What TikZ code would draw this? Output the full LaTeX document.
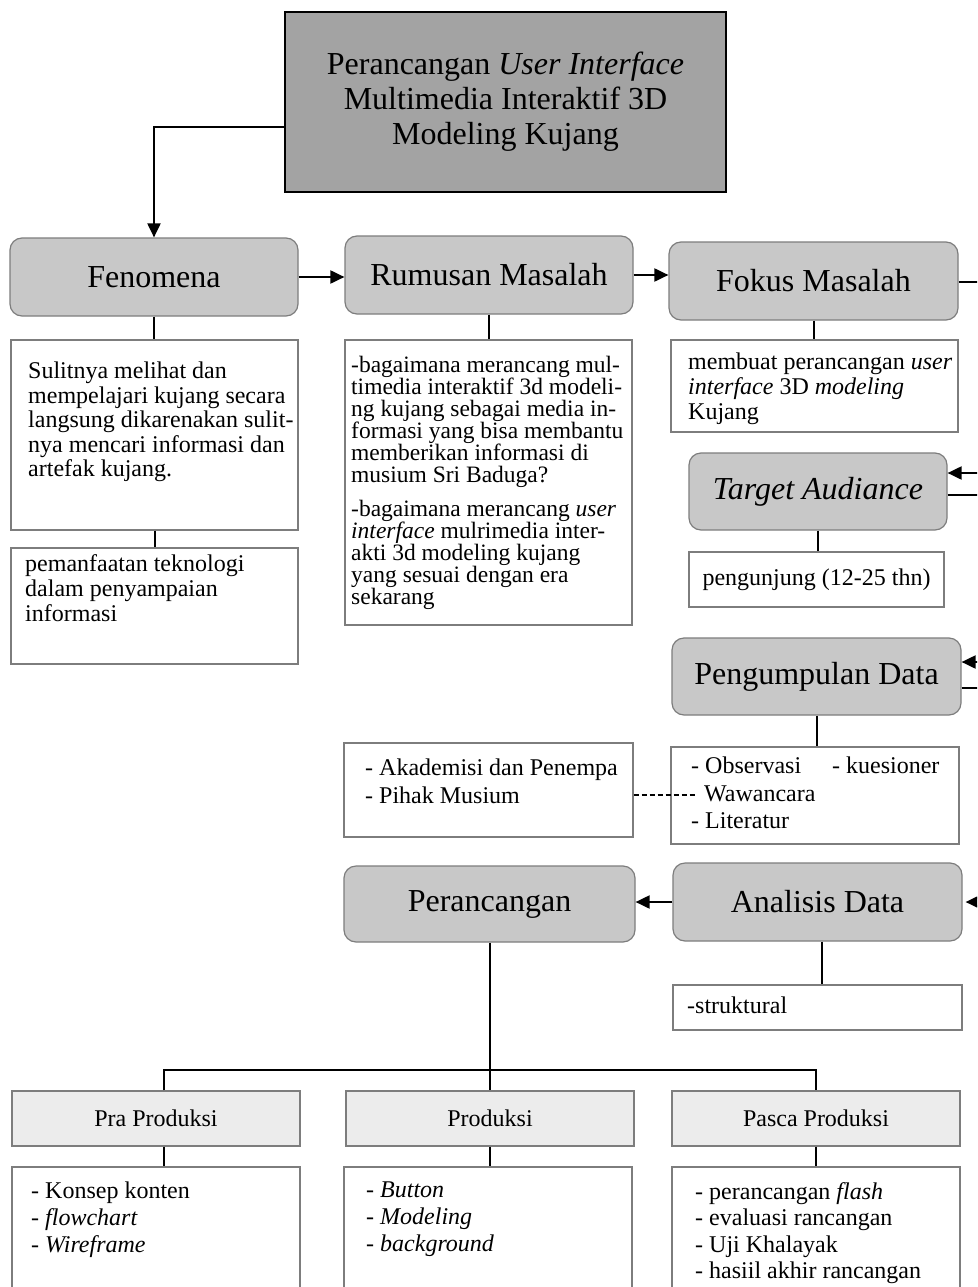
\documentclass[tikz,border=0pt]{standalone}
\usepackage{fontspec}
\setmainfont{Liberation Serif}
\usetikzlibrary{arrows.meta, positioning}

\definecolor{titlegray}{RGB}{163,163,163}
\definecolor{boxgray}{RGB}{200,200,200}
\definecolor{stagegray}{RGB}{236,236,236}
\definecolor{edgegray}{RGB}{125,125,125}

\newcommand{\bigtxt}{\fontsize{32}{35}\selectfont}
\newcommand{\smalltxt}{\fontsize{24}{24.5}\selectfont}

\begin{document}
\begin{tikzpicture}[x=1pt, y=-1pt,
  titlebox/.style={draw=black, line width=2.5pt, fill=titlegray, inner sep=0pt, align=center, font=\bigtxt},
  headbox/.style={draw=edgegray, line width=1.2pt, fill=boxgray, rounded corners=12pt, inner sep=0pt, font=\bigtxt},
  notebox/.style={draw=edgegray, line width=1.2pt, fill=white, inner sep=0pt, font=\smalltxt},
  stagebox/.style={draw=edgegray, line width=1.2pt, fill=stagegray, inner sep=0pt, font=\smalltxt},
  note/.style={anchor=north west, inner sep=0pt, align=left, font=\smalltxt},
  link/.style={line width=2pt, black},
  arr/.style={link, -{Triangle[length=14pt, width=13pt]}}
]

\useasboundingbox (0,0) rectangle (977,1287);
\clip (0,0) rectangle (977,1287);

% Title
\node[titlebox, minimum width=441pt, minimum height=180pt] (title) at (505.5,102)
{Perancangan \textit{User Interface}\\ Multimedia Interaktif 3D\\ Modeling Kujang};

% ---- Main stages ----
\node[headbox, minimum width=288pt, minimum height=78pt] (fen) at (154,277) {Fenomena};
\node[headbox, minimum width=288pt, minimum height=78pt] (rum) at (489,275) {Rumusan Masalah};
\node[headbox, minimum width=289pt, minimum height=78pt] (fok) at (813.5,281) {Fokus Masalah};
\node[headbox, minimum width=258pt, minimum height=77pt] (tgt) at (818,491.5) {\textit{Target Audiance}};
\node[headbox, minimum width=289pt, minimum height=77pt] (kum) at (816.5,676.5) {Pengumpulan Data};
\node[headbox, minimum width=291pt, minimum height=76pt] (ran) at (489.5,904) {Perancangan};
\node[headbox, minimum width=289pt, minimum height=78pt] (ana) at (817.5,902) {Analisis Data};

% ---- Note boxes ----
\node[notebox, minimum width=287pt, minimum height=190pt] (fenA) at (154.5,435) {};
\node[notebox, minimum width=287pt, minimum height=116pt] (fenB) at (154.5,606) {};
\node[notebox, minimum width=287pt, minimum height=285pt] (rumA) at (488.5,482.5) {};
\node[notebox, minimum width=287pt, minimum height=92pt] (fokA) at (814.5,386) {};
\node[notebox, minimum width=255pt, minimum height=55pt] (tgtA) at (816.5,579.5) {pengunjung (12-25 thn)};
\node[notebox, minimum width=288pt, minimum height=97pt] (kumA) at (815,795.5) {};
\node[notebox, minimum width=289pt, minimum height=94pt] (sumber) at (488.5,790) {};
\node[notebox, minimum width=289pt, minimum height=45pt] (anaA) at (817.5,1007.5) {};

% ---- Production stages ----
\node[stagebox, minimum width=288pt, minimum height=55pt] (pra) at (156,1118.5) {Pra Produksi};
\node[stagebox, minimum width=288pt, minimum height=55pt] (pro) at (490,1118.5) {Produksi};
\node[stagebox, minimum width=288pt, minimum height=55pt] (pas) at (816,1118.5) {Pasca Produksi};
\node[notebox, minimum width=288pt, minimum height=140pt] (praA) at (156,1237) {};
\node[notebox, minimum width=288pt, minimum height=140pt] (proA) at (488,1237) {};
\node[notebox, minimum width=288pt, minimum height=140pt] (pasA) at (816,1237) {};

% ---- Note texts ----
\node[note, font={\fontsize{24}{24.5}\selectfont}] (fenT) at (28,362)
{Sulitnya melihat dan\\ mempelajari kujang secara\\ langsung dikarenakan sulit-\\
 nya mencari informasi dan\\ artefak kujang.};
\node[note, font={\fontsize{24}{25}\selectfont}] (fenBT) at (25,554)
{pemanfaatan teknologi\\ dalam penyampaian\\ informasi};
\node[note, font={\fontsize{23.5}{22}\selectfont\lineskiplimit=-20pt}] (rumT) at (351,356)
{-bagaimana merancang mul-\\ timedia interaktif 3d modeli-\\ ng kujang sebagai media in-\\
 formasi yang bisa membantu\\ memberikan informasi di\\ musium Sri Baduga?\\[12pt]
 -bagaimana merancang \textit{user}\\ \textit{interface} mulrimedia inter-\\
 akti 3d modeling kujang\\ yang sesuai dengan era\\ sekarang};
\node[note, font={\fontsize{24}{25}\selectfont}] (fokT) at (688,353)
{membuat perancangan \textit{user}\\ \textit{interface} 3D \textit{modeling}\\ Kujang};
\node[note, font={\fontsize{24}{28}\selectfont}] (sumberT) at (365,759)
{- Akademisi dan Penempa\\ - Pihak Musium};
\node[note, font={\fontsize{24}{27.5}\selectfont}] (kumT) at (691,757)
{- Observasi\hspace*{31pt}- kuesioner\\ \hspace*{13pt}Wawancara\\ - Literatur};
\node[note] (anaAT) at (687,997) {-struktural};
\node[note, font={\fontsize{24}{27}\selectfont}] (praT) at (31,1182)
{- Konsep konten\\ - \textit{flowchart}\\ - \textit{Wireframe}};
\node[note, font={\fontsize{24}{27}\selectfont}] (proT) at (366,1182)
{- \textit{Button}\\ - \textit{Modeling}\\ - \textit{background}};
\node[note, font={\fontsize{24}{26.5}\selectfont}] (pasT) at (695,1182)
{- perancangan \textit{flash}\\ - evaluasi rancangan\\ - Uji Khalayak\\ - hasiil akhir rancangan};

% ---- Connectors ----
\draw[arr] ([yshift=-25pt]title.west) -| (fen.north);
\draw[arr] (fen.east) -- (fen.east -| rum.west);
\draw[arr] (rum.east) -- (rum.east -| fok.west);
\draw[arr] (ana.west) -- (ana.west -| ran.east);

\draw[link] (fen.south) -- (fen.south |- fenA.north);
\draw[link] (fenA.south) -- (fenA.south |- fenB.north);
\draw[link] (rum.south) -- (rum.south |- rumA.north);
\draw[link] (fok.south) -- (fok.south |- fokA.north);
\draw[link] (tgt.south) -- (tgt.south |- tgtA.north);
\draw[link] (kum.south) -- (kum.south |- kumA.north);
\draw[link] ([xshift=4.5pt]ana.south) -- ([xshift=4.5pt]ana.south |- anaA.north);

% dashed link to sources
\coordinate (wawa) at (697,795);
\draw[link, dash pattern=on 5pt off 3pt] ([yshift=-5pt]sumber.east) -- (wawa);

% ---- Design tree ----
\coordinate (bus) at (489.5,1070);
\draw[link] (ran.south) -- (bus);
\draw[link] ([xshift=8pt]pra.north) |- (bus) -| (pas.north);
\draw[link] (bus) -- (bus |- pro.north);
\draw[link] ([xshift=8pt]pra.south) -- ([xshift=8pt]praA.north);
\draw[link] (pro.south) -- (pro.south |- proA.north);
\draw[link] (pas.south) -- (pas.south |- pasA.north);

% ---- Loop stubs at the right edge ----
\coordinate (fokR) at (990,282);
\coordinate (tgtIn) at (990,473);
\coordinate (tgtOut) at (990,495);
\coordinate (kumIn) at (990,662);
\coordinate (kumOut) at (990,688);
\coordinate (anaIn) at (990,902);
\draw[link] ([yshift=-1pt]fok.east) -- (fokR);
\draw[arr] (tgtIn) -- ([yshift=18.5pt]tgt.east);
\draw[link] ([yshift=-3.5pt]tgt.east) -- (tgtOut);
\draw[arr] (kumIn) -- ([yshift=14.5pt]kum.east);
\draw[link] ([yshift=-11.5pt]kum.east) -- (kumOut);
\draw[arr] (anaIn) -- ([xshift=3pt]ana.east);

\end{tikzpicture}
\end{document}
